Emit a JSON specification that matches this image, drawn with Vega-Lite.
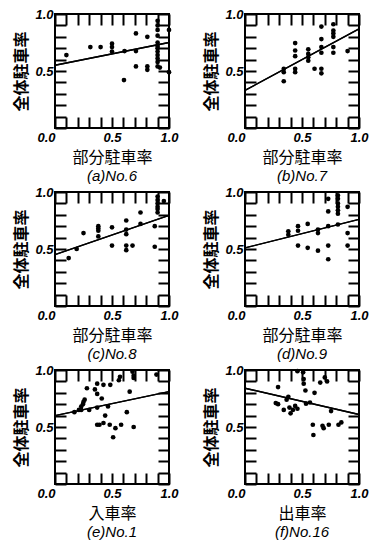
{
  "$schema": "https://vega.github.io/schema/vega-lite/v6.json",
  "background": "white",
  "padding": {"left": 12, "top": 7, "right": 5, "bottom": 1},
  "datasets": {
    "a": [{"x":0.10,"y":0.64},{"x":0.31,"y":0.71},{"x":0.40,"y":0.71},{"x":0.50,"y":0.74},{"x":0.50,"y":0.71},{"x":0.50,"y":0.67},{"x":0.61,"y":0.675},{"x":0.605,"y":0.42},{"x":0.71,"y":0.83},{"x":0.71,"y":0.675},{"x":0.71,"y":0.54},{"x":0.81,"y":0.80},{"x":0.81,"y":0.54},{"x":0.81,"y":0.51},{"x":0.90,"y":0.94},{"x":0.90,"y":0.90},{"x":0.90,"y":0.86},{"x":0.90,"y":0.81},{"x":0.90,"y":0.75},{"x":0.90,"y":0.72},{"x":0.90,"y":0.70},{"x":0.90,"y":0.67},{"x":0.90,"y":0.64},{"x":0.90,"y":0.61},{"x":0.90,"y":0.58},{"x":0.90,"y":0.54},{"x":0.92,"y":0.53},{"x":1.0,"y":0.86},{"x":1.0,"y":0.49}],
    "aL": [{"x":0,"y":0.55},{"x":1,"y":0.75}],
    "b": [{"x":0.34,"y":0.52},{"x":0.34,"y":0.49},{"x":0.34,"y":0.41},{"x":0.44,"y":0.745},{"x":0.44,"y":0.68},{"x":0.44,"y":0.63},{"x":0.44,"y":0.52},{"x":0.44,"y":0.49},{"x":0.555,"y":0.69},{"x":0.555,"y":0.65},{"x":0.555,"y":0.62},{"x":0.555,"y":0.59},{"x":0.61,"y":0.52},{"x":0.67,"y":0.89},{"x":0.67,"y":0.78},{"x":0.67,"y":0.71},{"x":0.67,"y":0.66},{"x":0.67,"y":0.52},{"x":0.67,"y":0.48},{"x":0.775,"y":0.91},{"x":0.775,"y":0.855},{"x":0.775,"y":0.83},{"x":0.775,"y":0.80},{"x":0.775,"y":0.71},{"x":0.775,"y":0.66},{"x":0.90,"y":0.675}],
    "bL": [{"x":0,"y":0.33},{"x":1,"y":0.87}],
    "c": [{"x":0.12,"y":0.42},{"x":0.19,"y":0.50},{"x":0.25,"y":0.64},{"x":0.38,"y":0.70},{"x":0.38,"y":0.68},{"x":0.38,"y":0.66},{"x":0.38,"y":0.61},{"x":0.50,"y":0.69},{"x":0.50,"y":0.53},{"x":0.625,"y":0.75},{"x":0.625,"y":0.67},{"x":0.625,"y":0.63},{"x":0.625,"y":0.53},{"x":0.625,"y":0.49},{"x":0.68,"y":0.53},{"x":0.75,"y":0.82},{"x":0.75,"y":0.72},{"x":0.875,"y":0.70},{"x":0.875,"y":0.52},{"x":0.90,"y":0.96},{"x":0.90,"y":0.93},{"x":0.90,"y":0.90},{"x":0.90,"y":0.87},{"x":0.90,"y":0.85},{"x":0.90,"y":0.82},{"x":0.955,"y":0.92}],
    "cL": [{"x":0,"y":0.45},{"x":1,"y":0.795}],
    "d": [{"x":0.38,"y":0.655},{"x":0.38,"y":0.625},{"x":0.465,"y":0.70},{"x":0.465,"y":0.66},{"x":0.465,"y":0.53},{"x":0.55,"y":0.72},{"x":0.55,"y":0.51},{"x":0.64,"y":0.67},{"x":0.64,"y":0.64},{"x":0.64,"y":0.485},{"x":0.73,"y":0.94},{"x":0.73,"y":0.83},{"x":0.73,"y":0.70},{"x":0.73,"y":0.53},{"x":0.73,"y":0.41},{"x":0.815,"y":0.97},{"x":0.815,"y":0.94},{"x":0.815,"y":0.90},{"x":0.815,"y":0.87},{"x":0.815,"y":0.84},{"x":0.815,"y":0.81},{"x":0.815,"y":0.715},{"x":0.90,"y":0.87},{"x":0.90,"y":0.64},{"x":0.90,"y":0.53}],
    "dL": [{"x":0,"y":0.51},{"x":1,"y":0.76}],
    "e": [{"x":0.17,"y":0.63},{"x":0.21,"y":0.65},{"x":0.23,"y":0.68},{"x":0.245,"y":0.70},{"x":0.25,"y":0.72},{"x":0.26,"y":0.74},{"x":0.23,"y":0.65},{"x":0.28,"y":0.84},{"x":0.30,"y":0.65},{"x":0.35,"y":0.83},{"x":0.37,"y":0.79},{"x":0.37,"y":0.88},{"x":0.37,"y":0.67},{"x":0.37,"y":0.52},{"x":0.39,"y":0.52},{"x":0.41,"y":0.75},{"x":0.425,"y":0.87},{"x":0.425,"y":0.535},{"x":0.44,"y":0.60},{"x":0.465,"y":0.68},{"x":0.485,"y":0.87},{"x":0.48,"y":0.52},{"x":0.53,"y":0.49},{"x":0.51,"y":0.41},{"x":0.58,"y":0.52},{"x":0.56,"y":0.91},{"x":0.57,"y":0.94},{"x":0.655,"y":0.81},{"x":0.63,"y":0.63},{"x":0.68,"y":0.985},{"x":0.69,"y":0.95},{"x":0.69,"y":0.93},{"x":0.69,"y":0.50},{"x":0.89,"y":0.96}],
    "eL": [{"x":0,"y":0.60},{"x":1,"y":0.81}],
    "f": [{"x":0.29,"y":0.85},{"x":0.27,"y":0.71},{"x":0.29,"y":0.70},{"x":0.34,"y":0.65},{"x":0.365,"y":0.74},{"x":0.38,"y":0.765},{"x":0.39,"y":0.67},{"x":0.40,"y":0.62},{"x":0.42,"y":0.65},{"x":0.44,"y":0.685},{"x":0.46,"y":0.66},{"x":0.46,"y":0.99},{"x":0.51,"y":0.98},{"x":0.515,"y":0.92},{"x":0.515,"y":0.88},{"x":0.53,"y":0.82},{"x":0.535,"y":0.705},{"x":0.57,"y":0.715},{"x":0.595,"y":0.52},{"x":0.60,"y":0.43},{"x":0.61,"y":0.80},{"x":0.66,"y":0.89},{"x":0.68,"y":0.51},{"x":0.69,"y":0.49},{"x":0.70,"y":0.935},{"x":0.72,"y":0.90},{"x":0.735,"y":0.52},{"x":0.755,"y":0.64},{"x":0.82,"y":0.52},{"x":0.845,"y":0.54}],
    "fL": [{"x":0,"y":0.84},{"x":1,"y":0.61}]
  },
  "config": {
    "view": {"stroke": "black", "strokeWidth": 2},
    "axis": {
      "domain": false, "ticks": false, "grid": false,
      "tickColor": "black", "tickWidth": 2, "tickSize": 11, "tickOpacity": 1,
      "labelFont": "Liberation Sans", "labelFontSize": 13, "labelFontWeight": "bold", "labelFontStyle": "italic",
      "labelColor": "black", "labelOverlap": false, "labelBound": false, "labelFlush": false,
      "titleFont": "Noto Sans CJK JP", "titleFontSize": 16, "titleColor": "black", "titleFontWeight": "normal"
    },
    "axisX": {"labelPadding": 3, "titlePadding": 5},
    "axisY": {"labelPadding": 2, "titlePadding": 5, "titleFontWeight": "bold"},
    "title": {"font": "Liberation Sans", "fontSize": 15, "fontStyle": "italic", "fontWeight": "normal", "color": "black", "orient": "bottom", "anchor": "middle", "frame": "group", "offset": 4},
    "circle": {"size": 22, "color": "black", "opacity": 1},
    "line": {"color": "black", "strokeWidth": 1.4}
  },
  "vconcat": [
    {"hconcat": [
      {"width": 114, "height": 114, "title": {"text": "(a)No.6"},
       "resolve": {"axis": {"x": "independent", "y": "independent"}},
       "layer": [
         {"data": {"name": "a"}, "mark": "circle",
          "encoding": {
            "x": {"field": "x", "type": "quantitative", "scale": {"domain": [0, 1], "nice": false}, "title": "部分駐車率",
                  "axis": {"tickCount": 2, "format": ".1f", "labelAlign": {"condition": {"test": "datum.value == 0", "value": "right"}, "value": "center"}}},
            "y": {"field": "y", "type": "quantitative", "scale": {"domain": [0, 1], "nice": false}, "title": "全体駐車率",
                  "axis": {"tickCount": 2, "labelExpr": "datum.value > 0.25 ? format(datum.value, '.1f') : ''"}}
          }},
         {"data": {"name": "aL"}, "mark": "line",
          "encoding": {
            "x": {"field": "x", "type": "quantitative", "axis": {"orient": "bottom", "tickCount": 10, "ticks": true, "offset": -11, "labels": false, "title": null}},
            "y": {"field": "y", "type": "quantitative", "axis": {"orient": "left", "tickCount": 10, "ticks": true, "offset": -11, "labels": false, "title": null}}
          }},
         {"data": {"name": "aL"}, "mark": "line",
          "encoding": {
            "x": {"field": "x", "type": "quantitative", "axis": {"orient": "top", "tickCount": 10, "ticks": true, "offset": -11, "labels": false, "title": null}},
            "y": {"field": "y", "type": "quantitative", "axis": {"orient": "right", "tickCount": 10, "ticks": true, "offset": -11, "labels": false, "title": null}}
          }}
       ]},
      {"width": 114, "height": 114, "title": {"text": "(b)No.7"},
       "resolve": {"axis": {"x": "independent", "y": "independent"}},
       "layer": [
         {"data": {"name": "b"}, "mark": "circle",
          "encoding": {
            "x": {"field": "x", "type": "quantitative", "scale": {"domain": [0, 1], "nice": false}, "title": "部分駐車率",
                  "axis": {"tickCount": 2, "format": ".1f", "labelAlign": {"condition": {"test": "datum.value == 0", "value": "right"}, "value": "center"}}},
            "y": {"field": "y", "type": "quantitative", "scale": {"domain": [0, 1], "nice": false}, "title": "全体駐車率",
                  "axis": {"tickCount": 2, "labelExpr": "datum.value > 0.25 ? format(datum.value, '.1f') : ''"}}
          }},
         {"data": {"name": "bL"}, "mark": "line",
          "encoding": {
            "x": {"field": "x", "type": "quantitative", "axis": {"orient": "bottom", "tickCount": 10, "ticks": true, "offset": -11, "labels": false, "title": null}},
            "y": {"field": "y", "type": "quantitative", "axis": {"orient": "left", "tickCount": 10, "ticks": true, "offset": -11, "labels": false, "title": null}}
          }},
         {"data": {"name": "bL"}, "mark": "line",
          "encoding": {
            "x": {"field": "x", "type": "quantitative", "axis": {"orient": "top", "tickCount": 10, "ticks": true, "offset": -11, "labels": false, "title": null}},
            "y": {"field": "y", "type": "quantitative", "axis": {"orient": "right", "tickCount": 10, "ticks": true, "offset": -11, "labels": false, "title": null}}
          }}
       ]}
    ], "spacing": 22},
    {"hconcat": [
      {"width": 114, "height": 114, "title": {"text": "(c)No.8"},
       "resolve": {"axis": {"x": "independent", "y": "independent"}},
       "layer": [
         {"data": {"name": "c"}, "mark": "circle",
          "encoding": {
            "x": {"field": "x", "type": "quantitative", "scale": {"domain": [0, 1], "nice": false}, "title": "部分駐車率",
                  "axis": {"tickCount": 2, "format": ".1f", "labelAlign": {"condition": {"test": "datum.value == 0", "value": "right"}, "value": "center"}}},
            "y": {"field": "y", "type": "quantitative", "scale": {"domain": [0, 1], "nice": false}, "title": "全体駐車率",
                  "axis": {"tickCount": 2, "labelExpr": "datum.value > 0.25 ? format(datum.value, '.1f') : ''"}}
          }},
         {"data": {"name": "cL"}, "mark": "line",
          "encoding": {
            "x": {"field": "x", "type": "quantitative", "axis": {"orient": "bottom", "tickCount": 10, "ticks": true, "offset": -11, "labels": false, "title": null}},
            "y": {"field": "y", "type": "quantitative", "axis": {"orient": "left", "tickCount": 10, "ticks": true, "offset": -11, "labels": false, "title": null}}
          }},
         {"data": {"name": "cL"}, "mark": "line",
          "encoding": {
            "x": {"field": "x", "type": "quantitative", "axis": {"orient": "top", "tickCount": 10, "ticks": true, "offset": -11, "labels": false, "title": null}},
            "y": {"field": "y", "type": "quantitative", "axis": {"orient": "right", "tickCount": 10, "ticks": true, "offset": -11, "labels": false, "title": null}}
          }}
       ]},
      {"width": 114, "height": 114, "title": {"text": "(d)No.9"},
       "resolve": {"axis": {"x": "independent", "y": "independent"}},
       "layer": [
         {"data": {"name": "d"}, "mark": "circle",
          "encoding": {
            "x": {"field": "x", "type": "quantitative", "scale": {"domain": [0, 1], "nice": false}, "title": "部分駐車率",
                  "axis": {"tickCount": 2, "format": ".1f", "labelAlign": {"condition": {"test": "datum.value == 0", "value": "right"}, "value": "center"}}},
            "y": {"field": "y", "type": "quantitative", "scale": {"domain": [0, 1], "nice": false}, "title": "全体駐車率",
                  "axis": {"tickCount": 2, "labelExpr": "datum.value > 0.25 ? format(datum.value, '.1f') : ''"}}
          }},
         {"data": {"name": "dL"}, "mark": "line",
          "encoding": {
            "x": {"field": "x", "type": "quantitative", "axis": {"orient": "bottom", "tickCount": 10, "ticks": true, "offset": -11, "labels": false, "title": null}},
            "y": {"field": "y", "type": "quantitative", "axis": {"orient": "left", "tickCount": 10, "ticks": true, "offset": -11, "labels": false, "title": null}}
          }},
         {"data": {"name": "dL"}, "mark": "line",
          "encoding": {
            "x": {"field": "x", "type": "quantitative", "axis": {"orient": "top", "tickCount": 10, "ticks": true, "offset": -11, "labels": false, "title": null}},
            "y": {"field": "y", "type": "quantitative", "axis": {"orient": "right", "tickCount": 10, "ticks": true, "offset": -11, "labels": false, "title": null}}
          }}
       ]}
    ], "spacing": 22},
    {"hconcat": [
      {"width": 114, "height": 114, "title": {"text": "(e)No.1"},
       "resolve": {"axis": {"x": "independent", "y": "independent"}},
       "layer": [
         {"data": {"name": "e"}, "mark": "circle",
          "encoding": {
            "x": {"field": "x", "type": "quantitative", "scale": {"domain": [0, 1], "nice": false}, "title": "入車率",
                  "axis": {"tickCount": 2, "format": ".1f", "labelAlign": {"condition": {"test": "datum.value == 0", "value": "right"}, "value": "center"}}},
            "y": {"field": "y", "type": "quantitative", "scale": {"domain": [0, 1], "nice": false}, "title": "全体駐車率",
                  "axis": {"tickCount": 2, "labelExpr": "datum.value > 0.25 ? format(datum.value, '.1f') : ''"}}
          }},
         {"data": {"name": "eL"}, "mark": "line",
          "encoding": {
            "x": {"field": "x", "type": "quantitative", "axis": {"orient": "bottom", "tickCount": 10, "ticks": true, "offset": -11, "labels": false, "title": null}},
            "y": {"field": "y", "type": "quantitative", "axis": {"orient": "left", "tickCount": 10, "ticks": true, "offset": -11, "labels": false, "title": null}}
          }},
         {"data": {"name": "eL"}, "mark": "line",
          "encoding": {
            "x": {"field": "x", "type": "quantitative", "axis": {"orient": "top", "tickCount": 10, "ticks": true, "offset": -11, "labels": false, "title": null}},
            "y": {"field": "y", "type": "quantitative", "axis": {"orient": "right", "tickCount": 10, "ticks": true, "offset": -11, "labels": false, "title": null}}
          }}
       ]},
      {"width": 114, "height": 114, "title": {"text": "(f)No.16"},
       "resolve": {"axis": {"x": "independent", "y": "independent"}},
       "layer": [
         {"data": {"name": "f"}, "mark": "circle",
          "encoding": {
            "x": {"field": "x", "type": "quantitative", "scale": {"domain": [0, 1], "nice": false}, "title": "出車率",
                  "axis": {"tickCount": 2, "format": ".1f", "labelAlign": {"condition": {"test": "datum.value == 0", "value": "right"}, "value": "center"}}},
            "y": {"field": "y", "type": "quantitative", "scale": {"domain": [0, 1], "nice": false}, "title": "全体駐車率",
                  "axis": {"tickCount": 2, "labelExpr": "datum.value > 0.25 ? format(datum.value, '.1f') : ''"}}
          }},
         {"data": {"name": "fL"}, "mark": "line",
          "encoding": {
            "x": {"field": "x", "type": "quantitative", "axis": {"orient": "bottom", "tickCount": 10, "ticks": true, "offset": -11, "labels": false, "title": null}},
            "y": {"field": "y", "type": "quantitative", "axis": {"orient": "left", "tickCount": 10, "ticks": true, "offset": -11, "labels": false, "title": null}}
          }},
         {"data": {"name": "fL"}, "mark": "line",
          "encoding": {
            "x": {"field": "x", "type": "quantitative", "axis": {"orient": "top", "tickCount": 10, "ticks": true, "offset": -11, "labels": false, "title": null}},
            "y": {"field": "y", "type": "quantitative", "axis": {"orient": "right", "tickCount": 10, "ticks": true, "offset": -11, "labels": false, "title": null}}
          }}
       ]}
    ], "spacing": 22}
  ],
  "spacing": 0
}
